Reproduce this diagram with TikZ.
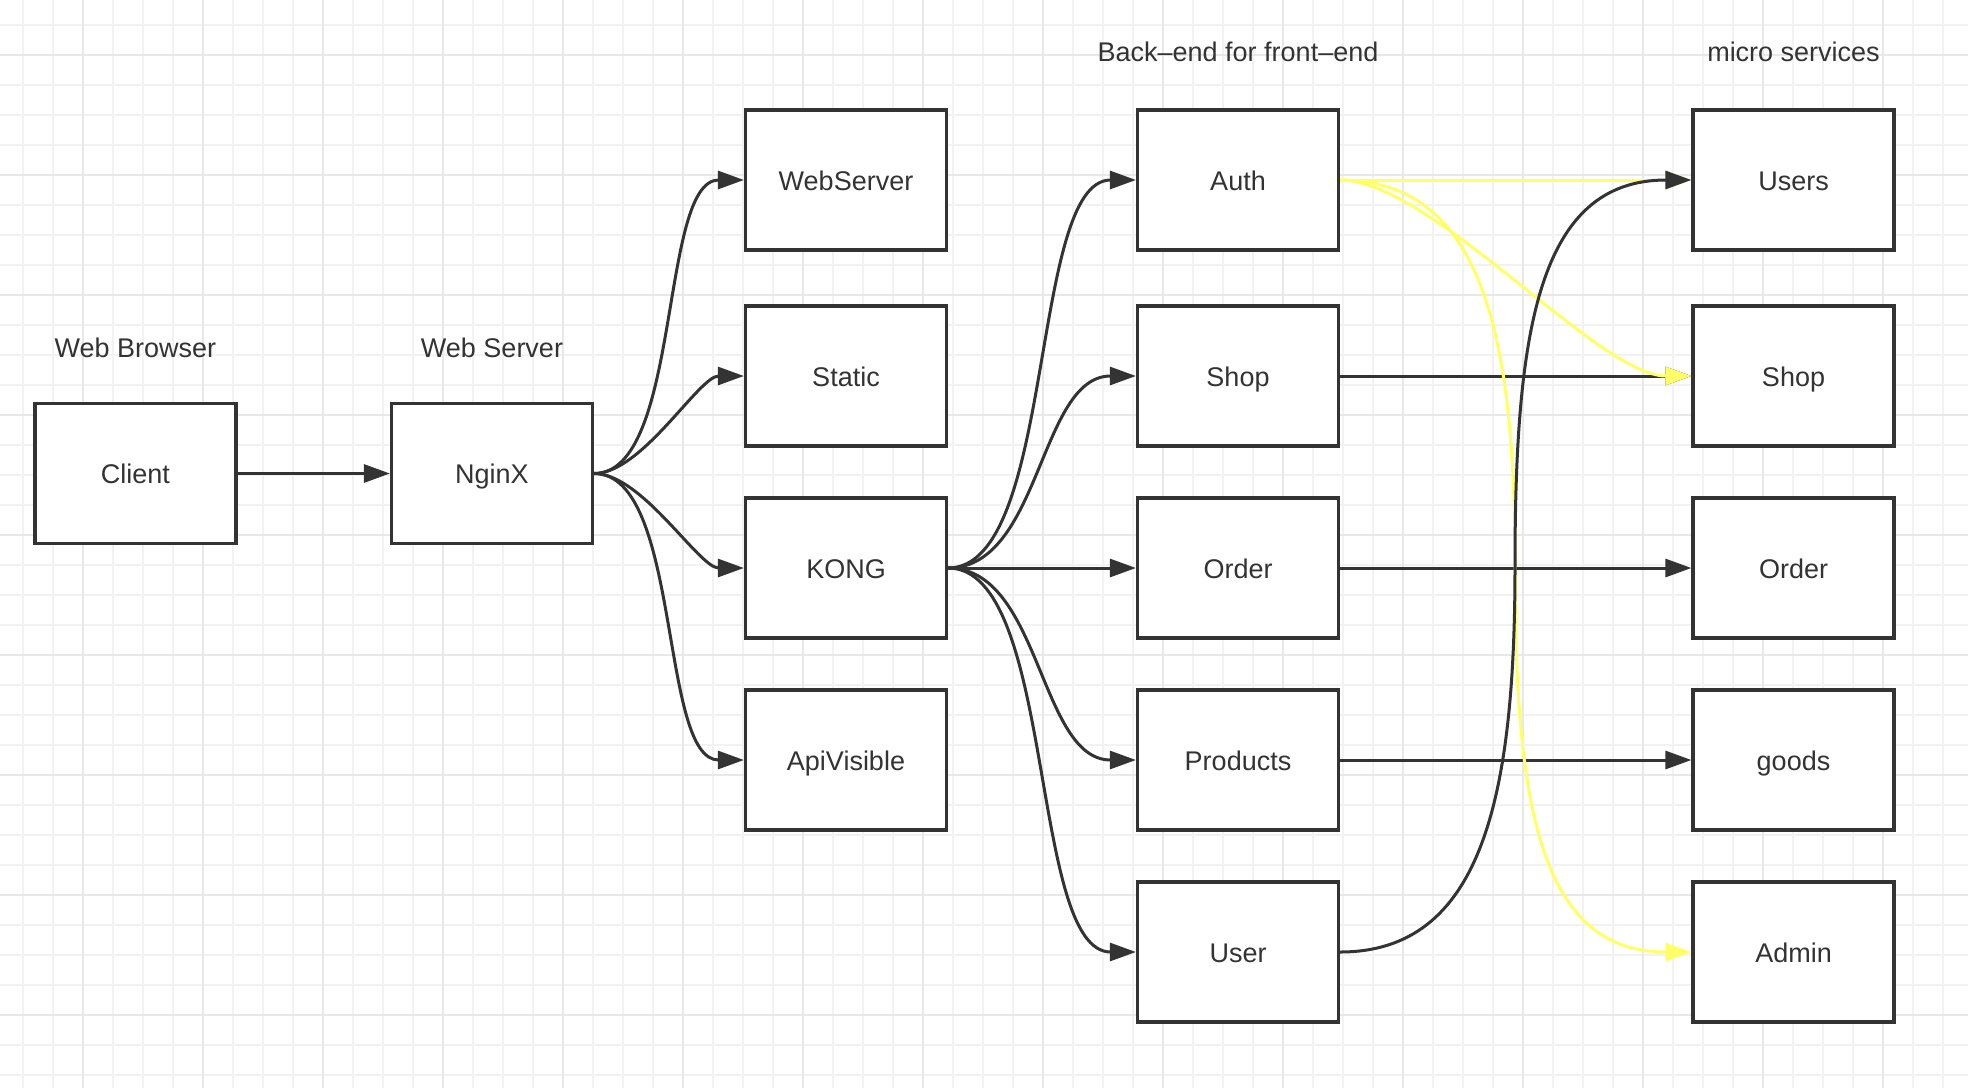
\documentclass[tikz,border=0pt]{standalone}
\usepackage{fontspec}
\setmainfont{Liberation Sans}
\usetikzlibrary{arrows.meta}
\definecolor{ink}{HTML}{333333}
\definecolor{hilite}{HTML}{FFFF66}
\definecolor{gridminor}{HTML}{F2F2F2}
\definecolor{gridmajor}{HTML}{E8E8E8}
\tikzset{
  box/.style={draw=ink, line width=3.2pt, fill=white, rectangle, minimum width=201pt, minimum height=140pt, inner sep=0pt, text=ink, text height=20pt, text depth=0pt, font=\fontsize{27pt}{32pt}\selectfont},
  lbl/.style={text=ink, inner sep=0pt, text height=20pt, text depth=0pt, font=\fontsize{27pt}{32pt}\selectfont},
  conn/.style={draw=ink, line width=3pt, -{Triangle[length=26pt,width=18pt]}},
  yconn/.style={draw=hilite, line width=3pt, -{Triangle[length=26pt,width=18pt]}},
  gminor/.style={draw=gridminor, line width=1.4pt},
  gmajor/.style={draw=gridmajor, line width=1.8pt}
}
\begin{document}
\begin{tikzpicture}[x=1pt,y=-1pt]
\fill[white] (0,0) rectangle (1968,1088);
\useasboundingbox (0,0) rectangle (1968,1088);
% grid
\foreach \gx in {23,53,...,1943} \draw[gminor] (\gx,0) -- (\gx,1088);
\foreach \gy in {25,55,...,1075} \draw[gminor] (0,\gy) -- (1968,\gy);
\foreach \gx in {83,203,...,1883} \draw[gmajor] (\gx,0) -- (\gx,1088);
\foreach \gy in {55,175,...,1015} \draw[gmajor] (0,\gy) -- (1968,\gy);
% labels
\node[lbl] (lwb) at (135.5,347) {Web Browser};
\node[lbl] (lws) at (492,347) {Web Server};
\node[lbl] (lbff) at (1238,51) {Back\textendash end for front\textendash end};
\node[lbl] (lms) at (1793.5,51) {micro services};
% boxes
\node[box] (client) at (135.5,473.5) {Client};
\node[box] (nginx) at (492,473.5) {NginX};
\node[box] (websrv) at (846,180) {WebServer};
\node[box] (static) at (846,376) {Static};
\node[box] (kong) at (846,568) {KONG};
\node[box] (apiv) at (846,760) {ApiVisible};
\node[box] (auth) at (1238,180) {Auth};
\node[box] (bshop) at (1238,376) {Shop};
\node[box] (border) at (1238,568) {Order};
\node[box] (products) at (1238,760) {Products};
\node[box] (user) at (1238,952) {User};
\node[box] (users) at (1793.5,180) {Users};
\node[box] (mshop) at (1793.5,376) {Shop};
\node[box] (morder) at (1793.5,568) {Order};
\node[box] (goods) at (1793.5,760) {goods};
\node[box] (admin) at (1793.5,952) {Admin};
\coordinate (ymid) at (1515,566);
% connectors
\draw[conn] (client.east) -- (nginx.west);
\draw[conn] (nginx.east) .. controls +(88,0) and +(-85,0) .. (websrv.west);
\draw[conn] (nginx.east) .. controls +(48,0) and +(-45,0) .. (static.west);
\draw[conn] (nginx.east) .. controls +(48,0) and +(-45,0) .. (kong.west);
\draw[conn] (nginx.east) .. controls +(88,0) and +(-85,0) .. (apiv.west);
\draw[conn] (kong.east) .. controls +(108,0) and +(-107,0) .. (auth.west);
\draw[conn] (kong.east) .. controls +(93,0) and +(-97,0) .. (bshop.west);
\draw[conn] (kong.east) -- (border.west);
\draw[conn] (kong.east) .. controls +(93,0) and +(-97,0) .. (products.west);
\draw[conn] (kong.east) .. controls +(108,0) and +(-107,0) .. (user.west);
\draw[conn] (bshop.east) -- (mshop.west);
\draw[conn] (border.east) -- (morder.west);
\draw[conn] (products.east) -- (goods.west);
% yellow
\draw[yconn] (auth.east) -- (users.west);
\draw[yconn] (auth.east) .. controls +(91,0) and +(-93,0) .. (mshop.west);
\draw[yconn] (auth.east) .. controls +(141,0) and +(0,-234) .. (ymid) .. controls +(0,236) and +(-153,0) .. (admin.west);
% dark over yellow
\draw[conn] (user.east) .. controls +(141,0) and +(0,234) .. (ymid) .. controls +(0,-236) and +(-153,0) .. (users.west);
\end{tikzpicture}
\end{document}
